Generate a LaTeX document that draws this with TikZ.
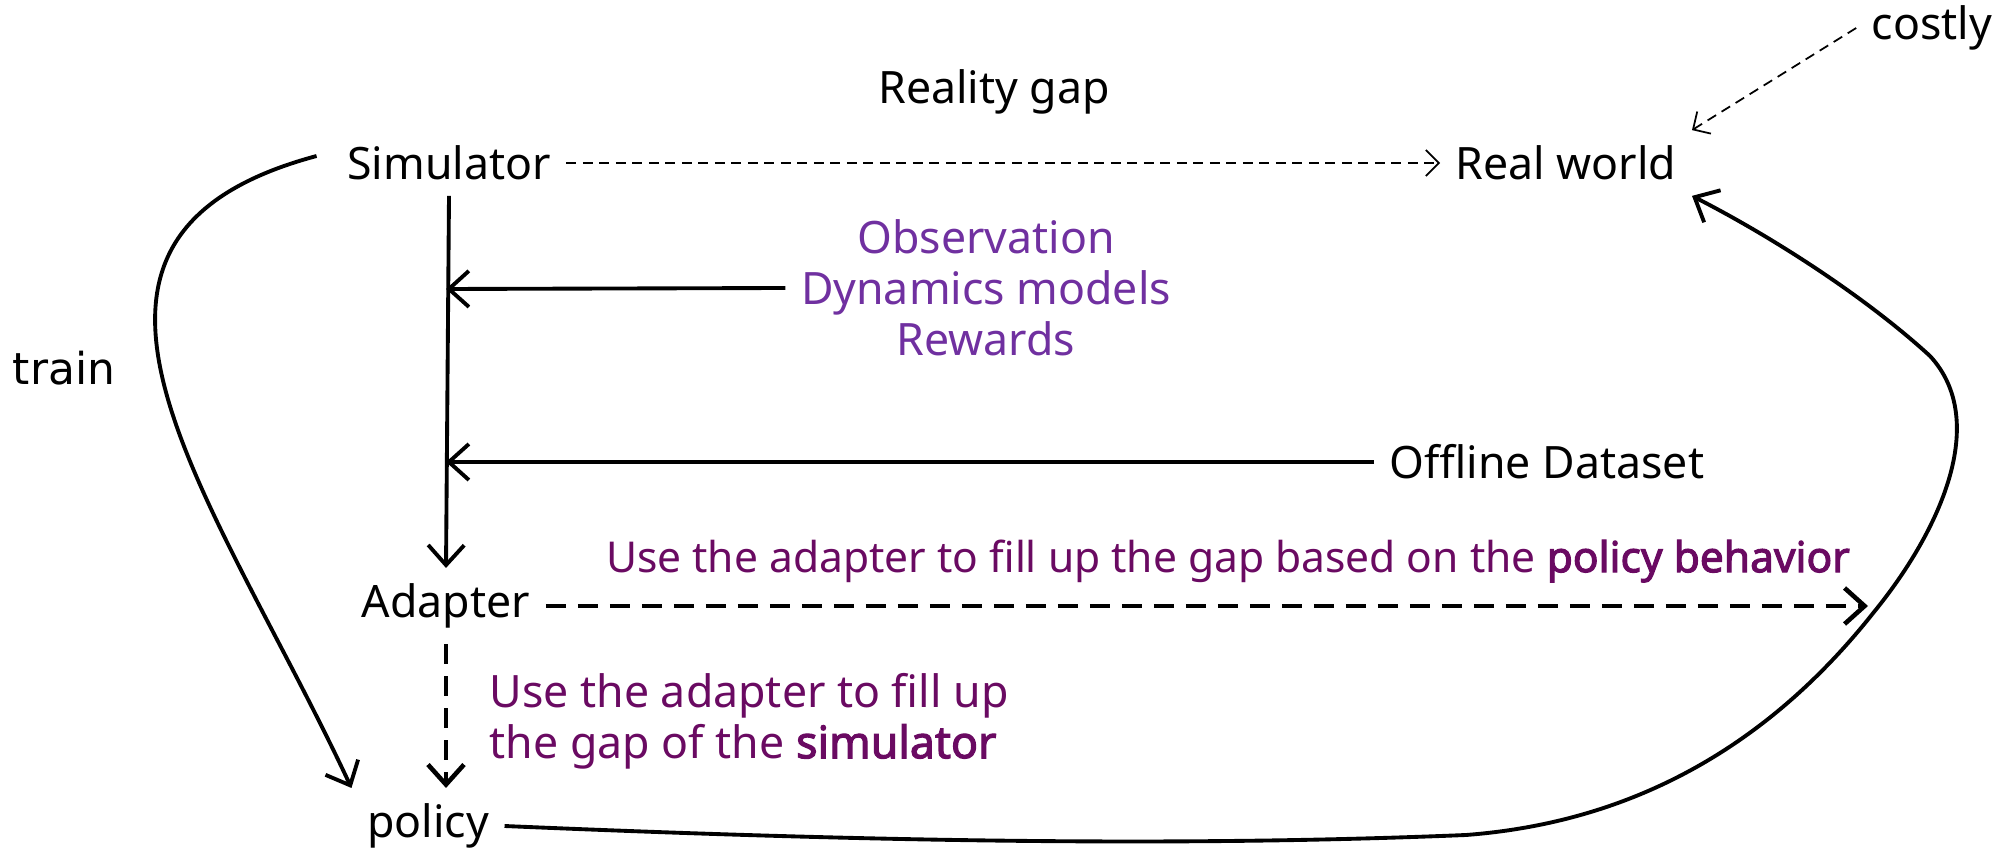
\documentclass[tikz,border=0pt]{standalone}
\usepackage{fontspec}
\setmainfont{Noto Sans}[AutoFakeBold=2.5]
\newfontfamily\trainfont{DejaVu Sans}
\usetikzlibrary{arrows.meta, positioning}
\definecolor{obspurple}{HTML}{7030A0}
\definecolor{gapmagenta}{HTML}{6A0A62}

\begin{document}
\begin{tikzpicture}[>={Straight Barb[length=2mm, width=3.6mm]}]
      % Styles
      \tikzset{
        every node/.style={inner sep=1.5mm, font=\fontsize{12.7}{14.5}\selectfont},
        solidarrow/.style={->, line width=1.1pt},
        gaparrow/.style={->, line width=1.3pt, dash pattern=on 2mm off 1.2mm},
        thinarrow/.style={->, line width=0.5pt, dash pattern=on 1mm off 0.65mm,
          >={Straight Barb[length=1.3mm, width=2.6mm]}},
        gaptext/.style={text=gapmagenta},
      }
      \useasboundingbox (0,0) rectangle (19.99,8.51);
      % Nodes
      \node (sim) at (4.49,6.88) {Simulator};
      \node (real) at (15.66,6.88) {Real world};
      \node (gap) at (9.94,7.59) {Reality gap};
      \node (costly) at (19.32,8.23) {costly};
      \node (obs) [text=obspurple, align=center] at (9.86,5.63) {Observation\\Dynamics models\\Rewards};
      \node (offline) at (15.47,3.89) {Offline Dataset};
      \node (adapter) at (4.46,2.45) {Adapter};
      \node (policy) at (4.28,0.25) {policy};
      \node (train) [font=\trainfont\fontsize{12.5}{14}\selectfont] at (0.64,4.83) {train};
      \node (behav) [gaptext, font=\fontsize{12.1}{14}\selectfont] at (12.28,2.90) {Use the adapter to fill up the gap based on the \textbf{policy behavior}};
      \node (simgap) [gaptext, anchor=west, align=left] at (4.74,1.30) {Use the adapter to fill up\\the gap of the \textbf{simulator}};
      % Coordinates on the trunk
      \coordinate (j1) at (4.46,5.62);
      \coordinate (j2) at (4.46,3.89);
      \coordinate (pb) at (18.68,2.45);
      % Arrows
      \draw[thinarrow] (sim.east) -- (real.west);
      \draw[thinarrow] (costly.west) -- (real.north east);
      \draw[solidarrow] (sim.south) -- (adapter.north);
      \draw[solidarrow] (obs.west) -- (j1);
      \draw[solidarrow] (offline.west) -- (j2);
      \draw[gaparrow] (adapter.east) -- (pb);
      \draw[gaparrow] (adapter.south) -- (adapter.south |- policy.north);
      \draw[solidarrow] ([xshift=-1.5mm, yshift=0.7mm]sim.west) to[out=195, in=115, looseness=1.3] (policy.north west);
      \draw[solidarrow] (policy.east) .. controls (9,0.08) and (12,0.05) .. (14.66,0.16)
        .. controls (16.5,0.3) and (17.8,1.2) .. (18.74,2.39)
        .. controls (19.4,3.2) and (19.9,4.3) .. (19.3,4.95)
        .. controls (18.7,5.5) and (17.8,6.1) .. (real.south east);
    \end{tikzpicture}
\end{document}
